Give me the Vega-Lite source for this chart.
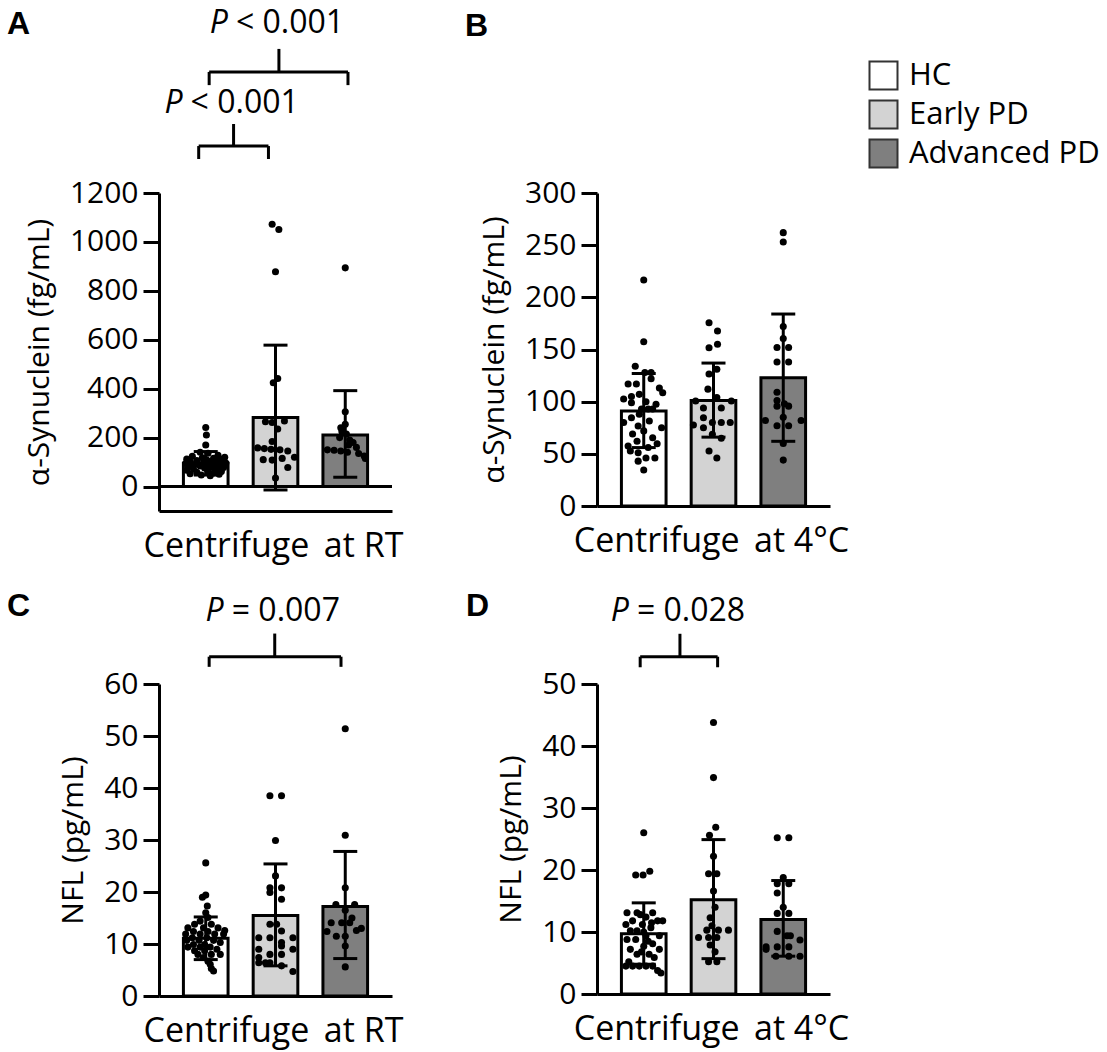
{
  "$schema": "https://vega.github.io/schema/vega-lite/v6.json",
  "background": "white",
  "padding": {"left": 7, "top": 6, "right": 0, "bottom": 4},
  "config": {
    "font": "Open Sans",
    "view": {"stroke": null},
    "axis": {
      "grid": false, "domainColor": "black", "domainWidth": 3,
      "tickColor": "black", "tickWidth": 3, "tickSize": 16,
      "labelColor": "black", "labelFontSize": 30, "labelPadding": 5,
      "titleColor": "black", "titleFontWeight": "normal", "titleFontSize": 30, "titlePadding": 15
    },
    "axisX": {"titleFontSize": 34, "titlePadding": 18, "titleX": 114},
    "tick": {"opacity": 1},
    "title": {"font": "Liberation Sans", "fontWeight": "bold", "fontSize": 32, "color": "black", "anchor": "start", "frame": "group"}
  },
  "datasets": {
    "A_sum": [
      {"group": "HC", "mean": 95, "lo": 47, "hi": 143},
      {"group": "Early PD", "mean": 282, "lo": -14, "hi": 578},
      {"group": "Advanced PD", "mean": 211, "lo": 38, "hi": 392}
    ],
    "A_pts": [
      {"group": "HC", "value": 241, "jitter": 0}, {"group": "HC", "value": 211, "jitter": 0.03}, {"group": "HC", "value": 170, "jitter": 0},
      {"group": "HC", "value": 140, "jitter": -0.25}, {"group": "HC", "value": 136, "jitter": 0.1}, {"group": "HC", "value": 128, "jitter": 0.55},
      {"group": "HC", "value": 124, "jitter": -0.6}, {"group": "HC", "value": 120, "jitter": 0.85}, {"group": "HC", "value": 118, "jitter": -0.15},
      {"group": "HC", "value": 115, "jitter": 0.35}, {"group": "HC", "value": 112, "jitter": -0.85}, {"group": "HC", "value": 110, "jitter": 0.7},
      {"group": "HC", "value": 108, "jitter": 0.05}, {"group": "HC", "value": 106, "jitter": -0.4}, {"group": "HC", "value": 104, "jitter": 0.5},
      {"group": "HC", "value": 102, "jitter": -0.7}, {"group": "HC", "value": 100, "jitter": 0.2}, {"group": "HC", "value": 98, "jitter": -0.1},
      {"group": "HC", "value": 96, "jitter": 0.9}, {"group": "HC", "value": 94, "jitter": -0.9}, {"group": "HC", "value": 92, "jitter": 0.4},
      {"group": "HC", "value": 90, "jitter": -0.5}, {"group": "HC", "value": 88, "jitter": 0.15}, {"group": "HC", "value": 86, "jitter": 0.65},
      {"group": "HC", "value": 84, "jitter": -0.25}, {"group": "HC", "value": 82, "jitter": -0.75}, {"group": "HC", "value": 80, "jitter": 0.3},
      {"group": "HC", "value": 78, "jitter": 0.8}, {"group": "HC", "value": 76, "jitter": -0.05}, {"group": "HC", "value": 73, "jitter": -0.55},
      {"group": "HC", "value": 70, "jitter": 0.5}, {"group": "HC", "value": 67, "jitter": -0.85}, {"group": "HC", "value": 64, "jitter": 0.1},
      {"group": "HC", "value": 61, "jitter": 0.7}, {"group": "HC", "value": 58, "jitter": -0.4}, {"group": "HC", "value": 55, "jitter": 0.35},
      {"group": "HC", "value": 52, "jitter": -0.7}, {"group": "HC", "value": 50, "jitter": 0.6}, {"group": "HC", "value": 47, "jitter": -0.2},
      {"group": "HC", "value": 44, "jitter": 0.2},
      {"group": "Early PD", "value": 1072, "jitter": -0.15}, {"group": "Early PD", "value": 1051, "jitter": 0.15}, {"group": "Early PD", "value": 878, "jitter": 0},
      {"group": "Early PD", "value": 442, "jitter": 0.1}, {"group": "Early PD", "value": 424, "jitter": -0.1}, {"group": "Early PD", "value": 265, "jitter": -0.45},
      {"group": "Early PD", "value": 262, "jitter": -0.15}, {"group": "Early PD", "value": 268, "jitter": 0.4}, {"group": "Early PD", "value": 235, "jitter": 0.1},
      {"group": "Early PD", "value": 184, "jitter": -0.15}, {"group": "Early PD", "value": 158, "jitter": -0.8}, {"group": "Early PD", "value": 155, "jitter": -0.5},
      {"group": "Early PD", "value": 152, "jitter": -0.2}, {"group": "Early PD", "value": 150, "jitter": 0.2}, {"group": "Early PD", "value": 145, "jitter": 0.55},
      {"group": "Early PD", "value": 120, "jitter": 0.85}, {"group": "Early PD", "value": 115, "jitter": 0.3}, {"group": "Early PD", "value": 110, "jitter": -0.55},
      {"group": "Early PD", "value": 108, "jitter": -0.15}, {"group": "Early PD", "value": 78, "jitter": 0.55}, {"group": "Early PD", "value": 35, "jitter": 0},
      {"group": "Advanced PD", "value": 894, "jitter": 0}, {"group": "Advanced PD", "value": 306, "jitter": 0}, {"group": "Advanced PD", "value": 255, "jitter": 0},
      {"group": "Advanced PD", "value": 240, "jitter": -0.2}, {"group": "Advanced PD", "value": 225, "jitter": -0.15}, {"group": "Advanced PD", "value": 215, "jitter": 0.05},
      {"group": "Advanced PD", "value": 200, "jitter": -0.25}, {"group": "Advanced PD", "value": 190, "jitter": 0.2}, {"group": "Advanced PD", "value": 180, "jitter": 0.35},
      {"group": "Advanced PD", "value": 170, "jitter": 0.15}, {"group": "Advanced PD", "value": 160, "jitter": 0.5}, {"group": "Advanced PD", "value": 150, "jitter": -0.8},
      {"group": "Advanced PD", "value": 148, "jitter": -0.5}, {"group": "Advanced PD", "value": 145, "jitter": -0.2}, {"group": "Advanced PD", "value": 140, "jitter": 0.1},
      {"group": "Advanced PD", "value": 135, "jitter": 0.6}, {"group": "Advanced PD", "value": 125, "jitter": 0.85}, {"group": "Advanced PD", "value": 115, "jitter": 0.9}
    ],
    "A_br": [
      {"x1": 0.05, "x2": 2.04, "xm": 1.05, "ybar": 1695, "yend": 1641, "ytop": 1789, "ytext": 1895, "label": "< 0.001"},
      {"x1": -0.1, "x2": 0.9, "xm": 0.4, "ybar": 1392, "yend": 1339, "ytop": 1482, "ytext": 1568, "label": "< 0.001"}
    ],
    "B_sum": [
      {"group": "HC", "mean": 91, "lo": 56, "hi": 127},
      {"group": "Early PD", "mean": 101, "lo": 66, "hi": 137},
      {"group": "Advanced PD", "mean": 123, "lo": 62, "hi": 184}
    ],
    "B_pts": [
      {"group": "HC", "value": 216.6, "jitter": 0}, {"group": "HC", "value": 157.5, "jitter": 0}, {"group": "HC", "value": 134, "jitter": -0.38},
      {"group": "HC", "value": 128, "jitter": 0.05}, {"group": "HC", "value": 128, "jitter": 0.33}, {"group": "HC", "value": 122, "jitter": 0.33},
      {"group": "HC", "value": 117, "jitter": -0.7}, {"group": "HC", "value": 117, "jitter": -0.33}, {"group": "HC", "value": 113, "jitter": 0.7},
      {"group": "HC", "value": 108.6, "jitter": 0.85}, {"group": "HC", "value": 107, "jitter": -0.2}, {"group": "HC", "value": 105, "jitter": -0.55},
      {"group": "HC", "value": 102.5, "jitter": -0.9}, {"group": "HC", "value": 100, "jitter": 0.1}, {"group": "HC", "value": 99, "jitter": -0.55},
      {"group": "HC", "value": 97.5, "jitter": 0.55}, {"group": "HC", "value": 93, "jitter": -0.1}, {"group": "HC", "value": 93, "jitter": 0.2},
      {"group": "HC", "value": 93, "jitter": 0.4}, {"group": "HC", "value": 88, "jitter": -0.2}, {"group": "HC", "value": 84.6, "jitter": -0.55},
      {"group": "HC", "value": 81.5, "jitter": 0.25}, {"group": "HC", "value": 80, "jitter": -0.9}, {"group": "HC", "value": 76.7, "jitter": -0.25},
      {"group": "HC", "value": 75, "jitter": 0.8}, {"group": "HC", "value": 72, "jitter": 0}, {"group": "HC", "value": 69, "jitter": -0.5},
      {"group": "HC", "value": 65.5, "jitter": 0.4}, {"group": "HC", "value": 62, "jitter": -0.3}, {"group": "HC", "value": 59.7, "jitter": 0.6},
      {"group": "HC", "value": 57.5, "jitter": -0.7}, {"group": "HC", "value": 56, "jitter": 0.2}, {"group": "HC", "value": 52.7, "jitter": -0.6},
      {"group": "HC", "value": 51, "jitter": -0.25}, {"group": "HC", "value": 46, "jitter": 0.1}, {"group": "HC", "value": 46, "jitter": 0.5},
      {"group": "HC", "value": 43, "jitter": -0.25}, {"group": "HC", "value": 34.5, "jitter": 0},
      {"group": "Early PD", "value": 175.7, "jitter": -0.2}, {"group": "Early PD", "value": 167.7, "jitter": 0.18}, {"group": "Early PD", "value": 155, "jitter": 0.18},
      {"group": "Early PD", "value": 151.7, "jitter": -0.2}, {"group": "Early PD", "value": 131, "jitter": 0.15}, {"group": "Early PD", "value": 126.5, "jitter": -0.2},
      {"group": "Early PD", "value": 112, "jitter": -0.25}, {"group": "Early PD", "value": 104, "jitter": 0.15}, {"group": "Early PD", "value": 100.6, "jitter": -0.8},
      {"group": "Early PD", "value": 100.6, "jitter": 0.8}, {"group": "Early PD", "value": 94, "jitter": -0.45}, {"group": "Early PD", "value": 94, "jitter": 0.35},
      {"group": "Early PD", "value": 84.6, "jitter": -0.45}, {"group": "Early PD", "value": 80, "jitter": -0.05}, {"group": "Early PD", "value": 80, "jitter": 0.35},
      {"group": "Early PD", "value": 80, "jitter": 0.75}, {"group": "Early PD", "value": 77.6, "jitter": -0.9}, {"group": "Early PD", "value": 75, "jitter": -0.45},
      {"group": "Early PD", "value": 68.7, "jitter": -0.05}, {"group": "Early PD", "value": 65, "jitter": 0.35}, {"group": "Early PD", "value": 52.7, "jitter": -0.2},
      {"group": "Early PD", "value": 46, "jitter": 0.15},
      {"group": "Advanced PD", "value": 262, "jitter": 0}, {"group": "Advanced PD", "value": 253, "jitter": 0}, {"group": "Advanced PD", "value": 172, "jitter": 0},
      {"group": "Advanced PD", "value": 160.6, "jitter": 0}, {"group": "Advanced PD", "value": 152, "jitter": -0.28}, {"group": "Advanced PD", "value": 152, "jitter": 0.24},
      {"group": "Advanced PD", "value": 138, "jitter": -0.28}, {"group": "Advanced PD", "value": 138, "jitter": 0.24}, {"group": "Advanced PD", "value": 109, "jitter": -0.28},
      {"group": "Advanced PD", "value": 101, "jitter": -0.28}, {"group": "Advanced PD", "value": 98, "jitter": 0.05}, {"group": "Advanced PD", "value": 95.7, "jitter": -0.28},
      {"group": "Advanced PD", "value": 95.7, "jitter": 0.24}, {"group": "Advanced PD", "value": 85, "jitter": 0}, {"group": "Advanced PD", "value": 82, "jitter": -0.8},
      {"group": "Advanced PD", "value": 82, "jitter": 0.8}, {"group": "Advanced PD", "value": 77, "jitter": -0.28}, {"group": "Advanced PD", "value": 77, "jitter": 0.24},
      {"group": "Advanced PD", "value": 60, "jitter": 0}, {"group": "Advanced PD", "value": 44, "jitter": 0}
    ],
    "C_sum": [
      {"group": "HC", "mean": 11.1, "lo": 7.0, "hi": 15.2},
      {"group": "Early PD", "mean": 15.5, "lo": 5.8, "hi": 25.4},
      {"group": "Advanced PD", "mean": 17.2, "lo": 7.2, "hi": 27.8}
    ],
    "C_pts": [
      {"group": "HC", "value": 25.6, "jitter": 0}, {"group": "HC", "value": 19.4, "jitter": 0}, {"group": "HC", "value": 19, "jitter": -0.15},
      {"group": "HC", "value": 17.3, "jitter": 0.07}, {"group": "HC", "value": 16, "jitter": 0}, {"group": "HC", "value": 15.1, "jitter": 0.1},
      {"group": "HC", "value": 14.4, "jitter": -0.25}, {"group": "HC", "value": 13.8, "jitter": -0.5}, {"group": "HC", "value": 13.8, "jitter": 0.25},
      {"group": "HC", "value": 13.1, "jitter": -0.8}, {"group": "HC", "value": 13.1, "jitter": -0.1}, {"group": "HC", "value": 13.1, "jitter": 0.55},
      {"group": "HC", "value": 12.6, "jitter": 0.85}, {"group": "HC", "value": 12.4, "jitter": -0.55}, {"group": "HC", "value": 12.4, "jitter": 0.1},
      {"group": "HC", "value": 11.9, "jitter": -0.9}, {"group": "HC", "value": 11.9, "jitter": -0.25}, {"group": "HC", "value": 11.9, "jitter": 0.4},
      {"group": "HC", "value": 11.9, "jitter": 0.8}, {"group": "HC", "value": 11.2, "jitter": -0.6}, {"group": "HC", "value": 11.2, "jitter": 0.05},
      {"group": "HC", "value": 10.7, "jitter": -0.85}, {"group": "HC", "value": 10.7, "jitter": -0.3}, {"group": "HC", "value": 10.7, "jitter": 0.35},
      {"group": "HC", "value": 10.3, "jitter": 0.65}, {"group": "HC", "value": 9.9, "jitter": -0.55}, {"group": "HC", "value": 9.9, "jitter": -0.05},
      {"group": "HC", "value": 9.4, "jitter": -0.8}, {"group": "HC", "value": 9.4, "jitter": -0.25}, {"group": "HC", "value": 9.4, "jitter": 0.2},
      {"group": "HC", "value": 9, "jitter": 0.5}, {"group": "HC", "value": 8.7, "jitter": -0.5}, {"group": "HC", "value": 8.7, "jitter": -0.05},
      {"group": "HC", "value": 8, "jitter": -0.35}, {"group": "HC", "value": 8, "jitter": 0.25}, {"group": "HC", "value": 8, "jitter": 0.65},
      {"group": "HC", "value": 7.4, "jitter": -0.1}, {"group": "HC", "value": 6.7, "jitter": 0.1}, {"group": "HC", "value": 6.1, "jitter": 0.2},
      {"group": "HC", "value": 5.3, "jitter": 0.25}, {"group": "HC", "value": 4.8, "jitter": 0.35},
      {"group": "Early PD", "value": 38.5, "jitter": -0.25}, {"group": "Early PD", "value": 38.5, "jitter": 0.27}, {"group": "Early PD", "value": 29.9, "jitter": 0},
      {"group": "Early PD", "value": 23.1, "jitter": 0}, {"group": "Early PD", "value": 20.8, "jitter": -0.25}, {"group": "Early PD", "value": 20.8, "jitter": 0.27},
      {"group": "Early PD", "value": 19.9, "jitter": -0.25}, {"group": "Early PD", "value": 18.6, "jitter": 0.27}, {"group": "Early PD", "value": 13.8, "jitter": -0.25},
      {"group": "Early PD", "value": 13.8, "jitter": 0.05}, {"group": "Early PD", "value": 12.5, "jitter": 0.27}, {"group": "Early PD", "value": 11.2, "jitter": -0.75},
      {"group": "Early PD", "value": 11.2, "jitter": -0.25}, {"group": "Early PD", "value": 11.2, "jitter": 0.78}, {"group": "Early PD", "value": 10.3, "jitter": 0.27},
      {"group": "Early PD", "value": 9.6, "jitter": 0.27}, {"group": "Early PD", "value": 9, "jitter": -0.75}, {"group": "Early PD", "value": 9, "jitter": 0.78},
      {"group": "Early PD", "value": 8, "jitter": -0.25}, {"group": "Early PD", "value": 8, "jitter": 0.27}, {"group": "Early PD", "value": 7.4, "jitter": -0.75},
      {"group": "Early PD", "value": 6.4, "jitter": -0.75}, {"group": "Early PD", "value": 6.4, "jitter": -0.45}, {"group": "Early PD", "value": 6.4, "jitter": -0.25},
      {"group": "Early PD", "value": 5.8, "jitter": 0.27}, {"group": "Early PD", "value": 4.7, "jitter": 0.78},
      {"group": "Advanced PD", "value": 51.4, "jitter": 0}, {"group": "Advanced PD", "value": 30.9, "jitter": 0}, {"group": "Advanced PD", "value": 20.8, "jitter": 0},
      {"group": "Advanced PD", "value": 17.6, "jitter": -0.42}, {"group": "Advanced PD", "value": 17.6, "jitter": 0.42}, {"group": "Advanced PD", "value": 16.5, "jitter": 0},
      {"group": "Advanced PD", "value": 15, "jitter": 0.3}, {"group": "Advanced PD", "value": 14.1, "jitter": -0.63}, {"group": "Advanced PD", "value": 14.1, "jitter": -0.16},
      {"group": "Advanced PD", "value": 14.1, "jitter": 0.2}, {"group": "Advanced PD", "value": 13, "jitter": 0.72}, {"group": "Advanced PD", "value": 12.6, "jitter": 0.5},
      {"group": "Advanced PD", "value": 12.4, "jitter": -0.82}, {"group": "Advanced PD", "value": 11.5, "jitter": -0.4}, {"group": "Advanced PD", "value": 11.5, "jitter": 0},
      {"group": "Advanced PD", "value": 9.6, "jitter": 0}, {"group": "Advanced PD", "value": 5.6, "jitter": 0}
    ],
    "C_br": [
      {"x1": 0.05, "x2": 1.94, "xm": 0.99, "ybar": 65.25, "yend": 63.3, "ytop": 69.7, "ytext": 74.0, "label": "= 0.007"}
    ],
    "D_sum": [
      {"group": "HC", "mean": 9.7, "lo": 4.8, "hi": 14.7},
      {"group": "Early PD", "mean": 15.2, "lo": 5.7, "hi": 24.9},
      {"group": "Advanced PD", "mean": 12.0, "lo": 6.1, "hi": 18.3}
    ],
    "D_pts": [
      {"group": "HC", "value": 26, "jitter": 0}, {"group": "HC", "value": 19.8, "jitter": 0.27}, {"group": "HC", "value": 19.2, "jitter": -0.36},
      {"group": "HC", "value": 19.2, "jitter": -0.03}, {"group": "HC", "value": 13.1, "jitter": -0.75}, {"group": "HC", "value": 13.1, "jitter": -0.3},
      {"group": "HC", "value": 13.1, "jitter": 0.4}, {"group": "HC", "value": 12.8, "jitter": -0.15}, {"group": "HC", "value": 12.4, "jitter": 0.1},
      {"group": "HC", "value": 11.8, "jitter": -0.5}, {"group": "HC", "value": 11.8, "jitter": 0.62}, {"group": "HC", "value": 11.8, "jitter": 0.85},
      {"group": "HC", "value": 11.5, "jitter": 0.35}, {"group": "HC", "value": 11.2, "jitter": -0.8}, {"group": "HC", "value": 11.2, "jitter": -0.06},
      {"group": "HC", "value": 10.7, "jitter": 0.32}, {"group": "HC", "value": 10.2, "jitter": -0.6}, {"group": "HC", "value": 10.2, "jitter": -0.3},
      {"group": "HC", "value": 10, "jitter": 0}, {"group": "HC", "value": 9.4, "jitter": 0.1}, {"group": "HC", "value": 9.4, "jitter": 0.7},
      {"group": "HC", "value": 8.8, "jitter": -0.75}, {"group": "HC", "value": 8.8, "jitter": -0.36}, {"group": "HC", "value": 8.5, "jitter": 0.2},
      {"group": "HC", "value": 8.1, "jitter": 0.4}, {"group": "HC", "value": 7.7, "jitter": 0}, {"group": "HC", "value": 7.2, "jitter": -0.6},
      {"group": "HC", "value": 7.2, "jitter": 0.7}, {"group": "HC", "value": 6.8, "jitter": -0.1}, {"group": "HC", "value": 6.4, "jitter": -0.3},
      {"group": "HC", "value": 6.4, "jitter": 0.24}, {"group": "HC", "value": 5.9, "jitter": 0.47}, {"group": "HC", "value": 5.2, "jitter": -0.67},
      {"group": "HC", "value": 4.5, "jitter": -0.8}, {"group": "HC", "value": 4.5, "jitter": -0.5}, {"group": "HC", "value": 4.5, "jitter": -0.2},
      {"group": "HC", "value": 4.5, "jitter": 0.1}, {"group": "HC", "value": 4.5, "jitter": 0.4}, {"group": "HC", "value": 3.8, "jitter": 0.62},
      {"group": "HC", "value": 3.4, "jitter": 0.77},
      {"group": "Early PD", "value": 43.8, "jitter": 0}, {"group": "Early PD", "value": 34.9, "jitter": 0}, {"group": "Early PD", "value": 26.9, "jitter": 0.1},
      {"group": "Early PD", "value": 25.6, "jitter": -0.18}, {"group": "Early PD", "value": 22.2, "jitter": 0}, {"group": "Early PD", "value": 19.4, "jitter": -0.22},
      {"group": "Early PD", "value": 19.4, "jitter": 0.15}, {"group": "Early PD", "value": 16.6, "jitter": 0}, {"group": "Early PD", "value": 14, "jitter": 0.07},
      {"group": "Early PD", "value": 12.3, "jitter": -0.15}, {"group": "Early PD", "value": 11, "jitter": -0.07}, {"group": "Early PD", "value": 10.3, "jitter": -0.3},
      {"group": "Early PD", "value": 10.3, "jitter": 0.22}, {"group": "Early PD", "value": 10.3, "jitter": 0.67}, {"group": "Early PD", "value": 9.1, "jitter": -0.67},
      {"group": "Early PD", "value": 9.1, "jitter": -0.22}, {"group": "Early PD", "value": 9.1, "jitter": 0.15}, {"group": "Early PD", "value": 7.9, "jitter": -0.15},
      {"group": "Early PD", "value": 6.8, "jitter": 0.07}, {"group": "Early PD", "value": 5.2, "jitter": -0.22}, {"group": "Early PD", "value": 5.2, "jitter": 0.15},
      {"group": "Advanced PD", "value": 25.2, "jitter": -0.27}, {"group": "Advanced PD", "value": 25.2, "jitter": 0.25}, {"group": "Advanced PD", "value": 18.8, "jitter": 0},
      {"group": "Advanced PD", "value": 17.8, "jitter": -0.27}, {"group": "Advanced PD", "value": 17.8, "jitter": 0.25}, {"group": "Advanced PD", "value": 16.3, "jitter": -0.27},
      {"group": "Advanced PD", "value": 14, "jitter": 0}, {"group": "Advanced PD", "value": 13, "jitter": -0.27}, {"group": "Advanced PD", "value": 13, "jitter": 0.25},
      {"group": "Advanced PD", "value": 10.1, "jitter": -0.27}, {"group": "Advanced PD", "value": 9.4, "jitter": 0.17}, {"group": "Advanced PD", "value": 9.4, "jitter": 0.32},
      {"group": "Advanced PD", "value": 8.7, "jitter": 0.75}, {"group": "Advanced PD", "value": 7.6, "jitter": -0.77}, {"group": "Advanced PD", "value": 7.6, "jitter": -0.27},
      {"group": "Advanced PD", "value": 7.6, "jitter": 0.25}, {"group": "Advanced PD", "value": 7.2, "jitter": -0.77}, {"group": "Advanced PD", "value": 6.1, "jitter": -0.33},
      {"group": "Advanced PD", "value": 6.1, "jitter": 0.25}, {"group": "Advanced PD", "value": 6.1, "jitter": 0.75}
    ],
    "D_br": [
      {"x1": -0.05, "x2": 1.06, "xm": 0.52, "ybar": 54.4, "yend": 52.7, "ytop": 58.1, "ytext": 61.8, "label": "= 0.028"}
    ]
  },
  "columns": 2,
  "bounds": "flush",
  "spacing": {"row": 173, "column": 205},
  "resolve": {"scale": {"fill": "independent"}, "legend": {"fill": "independent"}},
  "concat": [
    {
      "width": 233, "height": 318,
      "title": {"text": "A", "dx": -152, "offset": -34},
      "resolve": {"scale": {"x": "independent"}},
      "layer": [
        {
          "resolve": {"scale": {"xOffset": "independent"}},
          "layer": [
            {
              "data": {"name": "A_sum"},
              "mark": {"type": "bar", "stroke": "black", "strokeWidth": 3},
              "encoding": {
                "x": {"field": "group", "type": "nominal", "title": "Centrifuge\u2009 at RT", "scale": {"domain": ["HC", "Early PD", "Advanced PD"], "paddingInner": 0.36, "paddingOuter": 0.35}, "axis": {"labels": false, "ticks": false}},
                "y": {"field": "mean", "type": "quantitative", "title": "α-Synuclein (fg/mL)", "scale": {"domain": [-100, 1200], "nice": false, "zero": false}, "axis": {"values": [0, 200, 400, 600, 800, 1000, 1200], "format": "d"}},
                "y2": {"datum": 0},
                "fill": {"field": "group", "type": "nominal", "scale": {"domain": ["HC", "Early PD", "Advanced PD"], "range": ["#ffffff", "#d3d3d3", "#7f7f7f"]}, "legend": null}
              }
            },
            {
              "data": {"values": [{}]},
              "mark": {"type": "rule", "color": "black", "strokeWidth": 3},
              "encoding": {"y": {"datum": 0, "type": "quantitative", "title": "α-Synuclein (fg/mL)", "scale": {"domain": [-100, 1200], "nice": false, "zero": false}, "axis": {"values": [0, 200, 400, 600, 800, 1000, 1200], "format": "d"}}}
            },
            {
              "data": {"name": "A_pts"},
              "mark": {"type": "circle", "size": 50, "color": "black", "opacity": 1},
              "encoding": {
                "x": {"field": "group", "type": "nominal", "title": "Centrifuge\u2009 at RT", "scale": {"domain": ["HC", "Early PD", "Advanced PD"], "paddingInner": 0.36, "paddingOuter": 0.35}, "axis": {"labels": false, "ticks": false}},
                "xOffset": {"field": "jitter", "type": "quantitative", "scale": {"domain": [-1, 1]}},
                "y": {"field": "value", "type": "quantitative", "title": "α-Synuclein (fg/mL)", "scale": {"domain": [-100, 1200], "nice": false, "zero": false}, "axis": {"values": [0, 200, 400, 600, 800, 1000, 1200], "format": "d"}}
              }
            },
            {
              "data": {"name": "A_sum"},
              "mark": {"type": "rule", "color": "black", "strokeWidth": 3},
              "encoding": {
                "x": {"field": "group", "type": "nominal", "title": "Centrifuge\u2009 at RT", "scale": {"domain": ["HC", "Early PD", "Advanced PD"], "paddingInner": 0.36, "paddingOuter": 0.35}, "axis": {"labels": false, "ticks": false}},
                "y": {"field": "lo", "type": "quantitative", "title": "α-Synuclein (fg/mL)", "scale": {"domain": [-100, 1200], "nice": false, "zero": false}, "axis": {"values": [0, 200, 400, 600, 800, 1000, 1200], "format": "d"}},
                "y2": {"field": "hi"}
              }
            },
            {
              "data": {"name": "A_sum"},
              "mark": {"type": "tick", "color": "black", "thickness": 3, "size": 24, "opacity": 1},
              "encoding": {
                "x": {"field": "group", "type": "nominal", "title": "Centrifuge\u2009 at RT", "scale": {"domain": ["HC", "Early PD", "Advanced PD"], "paddingInner": 0.36, "paddingOuter": 0.35}, "axis": {"labels": false, "ticks": false}},
                "y": {"field": "lo", "type": "quantitative", "title": "α-Synuclein (fg/mL)", "scale": {"domain": [-100, 1200], "nice": false, "zero": false}, "axis": {"values": [0, 200, 400, 600, 800, 1000, 1200], "format": "d"}}
              }
            },
            {
              "data": {"name": "A_sum"},
              "mark": {"type": "tick", "color": "black", "thickness": 3, "size": 24, "opacity": 1},
              "encoding": {
                "x": {"field": "group", "type": "nominal", "title": "Centrifuge\u2009 at RT", "scale": {"domain": ["HC", "Early PD", "Advanced PD"], "paddingInner": 0.36, "paddingOuter": 0.35}, "axis": {"labels": false, "ticks": false}},
                "y": {"field": "hi", "type": "quantitative", "title": "α-Synuclein (fg/mL)", "scale": {"domain": [-100, 1200], "nice": false, "zero": false}, "axis": {"values": [0, 200, 400, 600, 800, 1000, 1200], "format": "d"}}
              }
            }
          ]
        },
        {
          "data": {"name": "A_br"},
          "layer": [
            {"mark": {"type": "rule", "color": "black", "strokeWidth": 3},
             "encoding": {"x": {"field": "x1", "type": "quantitative", "scale": {"domain": [-0.669, 2.671], "nice": false, "zero": false}, "axis": null}, "x2": {"field": "x2"},
                          "y": {"field": "ybar", "type": "quantitative", "title": "α-Synuclein (fg/mL)", "scale": {"domain": [-100, 1200], "nice": false, "zero": false}, "axis": {"values": [0, 200, 400, 600, 800, 1000, 1200], "format": "d"}}}},
            {"mark": {"type": "rule", "color": "black", "strokeWidth": 3},
             "encoding": {"x": {"field": "x1", "type": "quantitative", "scale": {"domain": [-0.669, 2.671], "nice": false, "zero": false}, "axis": null},
                          "y": {"field": "ybar", "type": "quantitative", "title": "α-Synuclein (fg/mL)", "scale": {"domain": [-100, 1200], "nice": false, "zero": false}, "axis": {"values": [0, 200, 400, 600, 800, 1000, 1200], "format": "d"}}, "y2": {"field": "yend"}}},
            {"mark": {"type": "rule", "color": "black", "strokeWidth": 3},
             "encoding": {"x": {"field": "x2", "type": "quantitative", "scale": {"domain": [-0.669, 2.671], "nice": false, "zero": false}, "axis": null},
                          "y": {"field": "ybar", "type": "quantitative", "title": "α-Synuclein (fg/mL)", "scale": {"domain": [-100, 1200], "nice": false, "zero": false}, "axis": {"values": [0, 200, 400, 600, 800, 1000, 1200], "format": "d"}}, "y2": {"field": "yend"}}},
            {"mark": {"type": "rule", "color": "black", "strokeWidth": 3},
             "encoding": {"x": {"field": "xm", "type": "quantitative", "scale": {"domain": [-0.669, 2.671], "nice": false, "zero": false}, "axis": null},
                          "y": {"field": "ybar", "type": "quantitative", "title": "α-Synuclein (fg/mL)", "scale": {"domain": [-100, 1200], "nice": false, "zero": false}, "axis": {"values": [0, 200, 400, 600, 800, 1000, 1200], "format": "d"}}, "y2": {"field": "ytop"}}},
            {"mark": {"type": "text", "text": "P", "fontStyle": "italic", "fontSize": 32, "align": "right", "baseline": "middle", "dx": -51, "color": "black"},
             "encoding": {"x": {"field": "xm", "type": "quantitative", "scale": {"domain": [-0.669, 2.671], "nice": false, "zero": false}, "axis": null},
                          "y": {"field": "ytext", "type": "quantitative", "title": "α-Synuclein (fg/mL)", "scale": {"domain": [-100, 1200], "nice": false, "zero": false}, "axis": {"values": [0, 200, 400, 600, 800, 1000, 1200], "format": "d"}}}},
            {"mark": {"type": "text", "fontSize": 32, "align": "left", "baseline": "middle", "dx": -43, "color": "black"},
             "encoding": {"x": {"field": "xm", "type": "quantitative", "scale": {"domain": [-0.669, 2.671], "nice": false, "zero": false}, "axis": null},
                          "y": {"field": "ytext", "type": "quantitative", "title": "α-Synuclein (fg/mL)", "scale": {"domain": [-100, 1200], "nice": false, "zero": false}, "axis": {"values": [0, 200, 400, 600, 800, 1000, 1200], "format": "d"}},
                          "text": {"field": "label"}}}
          ]
        }
      ]
    },
    {
      "width": 233, "height": 313,
      "title": {"text": "B", "dx": -132, "offset": 17},
      "resolve": {"scale": {"xOffset": "independent"}},
      "layer": [
        {
          "data": {"name": "B_sum"},
          "mark": {"type": "bar", "stroke": "black", "strokeWidth": 3},
          "encoding": {
            "x": {"field": "group", "type": "nominal", "title": "Centrifuge\u2009 at 4°C", "scale": {"domain": ["HC", "Early PD", "Advanced PD"], "paddingInner": 0.36, "paddingOuter": 0.35}, "axis": {"labels": false, "ticks": false}},
            "y": {"field": "mean", "type": "quantitative", "title": "α-Synuclein (fg/mL)", "scale": {"domain": [0, 300], "nice": false}, "axis": {"values": [0, 50, 100, 150, 200, 250, 300], "format": "d"}},
            "y2": {"datum": 0},
            "fill": {"field": "group", "type": "nominal", "scale": {"domain": ["HC", "Early PD", "Advanced PD"], "range": ["#ffffff", "#d3d3d3", "#7f7f7f"]},
                     "legend": {"orient": "none", "legendX": 271, "legendY": -133, "title": null, "padding": 0, "symbolType": "square", "symbolSize": 784,
                                "symbolStrokeColor": "#333333", "symbolStrokeWidth": 2, "symbolOpacity": 1, "labelFontSize": 31, "labelColor": "black",
                                "labelOffset": 10, "labelLimit": 400, "rowPadding": 2}}
          }
        },
        {
          "data": {"name": "B_pts"},
          "mark": {"type": "circle", "size": 50, "color": "black", "opacity": 1},
          "encoding": {
            "x": {"field": "group", "type": "nominal", "title": "Centrifuge\u2009 at 4°C", "scale": {"domain": ["HC", "Early PD", "Advanced PD"], "paddingInner": 0.36, "paddingOuter": 0.35}, "axis": {"labels": false, "ticks": false}},
            "xOffset": {"field": "jitter", "type": "quantitative", "scale": {"domain": [-1, 1]}},
            "y": {"field": "value", "type": "quantitative", "title": "α-Synuclein (fg/mL)", "scale": {"domain": [0, 300], "nice": false}, "axis": {"values": [0, 50, 100, 150, 200, 250, 300], "format": "d"}}
          }
        },
        {
          "data": {"name": "B_sum"},
          "mark": {"type": "rule", "color": "black", "strokeWidth": 3},
          "encoding": {
            "x": {"field": "group", "type": "nominal", "title": "Centrifuge\u2009 at 4°C", "scale": {"domain": ["HC", "Early PD", "Advanced PD"], "paddingInner": 0.36, "paddingOuter": 0.35}, "axis": {"labels": false, "ticks": false}},
            "y": {"field": "lo", "type": "quantitative", "title": "α-Synuclein (fg/mL)", "scale": {"domain": [0, 300], "nice": false}, "axis": {"values": [0, 50, 100, 150, 200, 250, 300], "format": "d"}},
            "y2": {"field": "hi"}
          }
        },
        {
          "data": {"name": "B_sum"},
          "mark": {"type": "tick", "color": "black", "thickness": 3, "size": 24, "opacity": 1},
          "encoding": {
            "x": {"field": "group", "type": "nominal", "title": "Centrifuge\u2009 at 4°C", "scale": {"domain": ["HC", "Early PD", "Advanced PD"], "paddingInner": 0.36, "paddingOuter": 0.35}, "axis": {"labels": false, "ticks": false}},
            "y": {"field": "lo", "type": "quantitative", "title": "α-Synuclein (fg/mL)", "scale": {"domain": [0, 300], "nice": false}, "axis": {"values": [0, 50, 100, 150, 200, 250, 300], "format": "d"}}
          }
        },
        {
          "data": {"name": "B_sum"},
          "mark": {"type": "tick", "color": "black", "thickness": 3, "size": 24, "opacity": 1},
          "encoding": {
            "x": {"field": "group", "type": "nominal", "title": "Centrifuge\u2009 at 4°C", "scale": {"domain": ["HC", "Early PD", "Advanced PD"], "paddingInner": 0.36, "paddingOuter": 0.35}, "axis": {"labels": false, "ticks": false}},
            "y": {"field": "hi", "type": "quantitative", "title": "α-Synuclein (fg/mL)", "scale": {"domain": [0, 300], "nice": false}, "axis": {"values": [0, 50, 100, 150, 200, 250, 300], "format": "d"}}
          }
        }
      ]
    },
    {
      "width": 233, "height": 312,
      "title": {"text": "C", "dx": -152, "offset": -28},
      "resolve": {"scale": {"x": "independent"}},
      "layer": [
        {
          "resolve": {"scale": {"xOffset": "independent"}},
          "layer": [
            {
              "data": {"name": "C_sum"},
              "mark": {"type": "bar", "stroke": "black", "strokeWidth": 3},
              "encoding": {
                "x": {"field": "group", "type": "nominal", "title": "Centrifuge\u2009 at RT", "scale": {"domain": ["HC", "Early PD", "Advanced PD"], "paddingInner": 0.36, "paddingOuter": 0.35}, "axis": {"labels": false, "ticks": false}},
                "y": {"field": "mean", "type": "quantitative", "title": "NFL (pg/mL)", "scale": {"domain": [0, 60], "nice": false}, "axis": {"values": [0, 10, 20, 30, 40, 50, 60], "format": "d"}},
                "y2": {"datum": 0},
                "fill": {"field": "group", "type": "nominal", "scale": {"domain": ["HC", "Early PD", "Advanced PD"], "range": ["#ffffff", "#d3d3d3", "#7f7f7f"]}, "legend": null}
              }
            },
            {
              "data": {"name": "C_pts"},
              "mark": {"type": "circle", "size": 50, "color": "black", "opacity": 1},
              "encoding": {
                "x": {"field": "group", "type": "nominal", "title": "Centrifuge\u2009 at RT", "scale": {"domain": ["HC", "Early PD", "Advanced PD"], "paddingInner": 0.36, "paddingOuter": 0.35}, "axis": {"labels": false, "ticks": false}},
                "xOffset": {"field": "jitter", "type": "quantitative", "scale": {"domain": [-1, 1]}},
                "y": {"field": "value", "type": "quantitative", "title": "NFL (pg/mL)", "scale": {"domain": [0, 60], "nice": false}, "axis": {"values": [0, 10, 20, 30, 40, 50, 60], "format": "d"}}
              }
            },
            {
              "data": {"name": "C_sum"},
              "mark": {"type": "rule", "color": "black", "strokeWidth": 3},
              "encoding": {
                "x": {"field": "group", "type": "nominal", "title": "Centrifuge\u2009 at RT", "scale": {"domain": ["HC", "Early PD", "Advanced PD"], "paddingInner": 0.36, "paddingOuter": 0.35}, "axis": {"labels": false, "ticks": false}},
                "y": {"field": "lo", "type": "quantitative", "title": "NFL (pg/mL)", "scale": {"domain": [0, 60], "nice": false}, "axis": {"values": [0, 10, 20, 30, 40, 50, 60], "format": "d"}},
                "y2": {"field": "hi"}
              }
            },
            {
              "data": {"name": "C_sum"},
              "mark": {"type": "tick", "color": "black", "thickness": 3, "size": 24, "opacity": 1},
              "encoding": {
                "x": {"field": "group", "type": "nominal", "title": "Centrifuge\u2009 at RT", "scale": {"domain": ["HC", "Early PD", "Advanced PD"], "paddingInner": 0.36, "paddingOuter": 0.35}, "axis": {"labels": false, "ticks": false}},
                "y": {"field": "lo", "type": "quantitative", "title": "NFL (pg/mL)", "scale": {"domain": [0, 60], "nice": false}, "axis": {"values": [0, 10, 20, 30, 40, 50, 60], "format": "d"}}
              }
            },
            {
              "data": {"name": "C_sum"},
              "mark": {"type": "tick", "color": "black", "thickness": 3, "size": 24, "opacity": 1},
              "encoding": {
                "x": {"field": "group", "type": "nominal", "title": "Centrifuge\u2009 at RT", "scale": {"domain": ["HC", "Early PD", "Advanced PD"], "paddingInner": 0.36, "paddingOuter": 0.35}, "axis": {"labels": false, "ticks": false}},
                "y": {"field": "hi", "type": "quantitative", "title": "NFL (pg/mL)", "scale": {"domain": [0, 60], "nice": false}, "axis": {"values": [0, 10, 20, 30, 40, 50, 60], "format": "d"}}
              }
            }
          ]
        },
        {
          "data": {"name": "C_br"},
          "layer": [
            {"mark": {"type": "rule", "color": "black", "strokeWidth": 3},
             "encoding": {"x": {"field": "x1", "type": "quantitative", "scale": {"domain": [-0.669, 2.671], "nice": false, "zero": false}, "axis": null}, "x2": {"field": "x2"},
                          "y": {"field": "ybar", "type": "quantitative", "title": "NFL (pg/mL)", "scale": {"domain": [0, 60], "nice": false}, "axis": {"values": [0, 10, 20, 30, 40, 50, 60], "format": "d"}}}},
            {"mark": {"type": "rule", "color": "black", "strokeWidth": 3},
             "encoding": {"x": {"field": "x1", "type": "quantitative", "scale": {"domain": [-0.669, 2.671], "nice": false, "zero": false}, "axis": null},
                          "y": {"field": "ybar", "type": "quantitative", "title": "NFL (pg/mL)", "scale": {"domain": [0, 60], "nice": false}, "axis": {"values": [0, 10, 20, 30, 40, 50, 60], "format": "d"}}, "y2": {"field": "yend"}}},
            {"mark": {"type": "rule", "color": "black", "strokeWidth": 3},
             "encoding": {"x": {"field": "x2", "type": "quantitative", "scale": {"domain": [-0.669, 2.671], "nice": false, "zero": false}, "axis": null},
                          "y": {"field": "ybar", "type": "quantitative", "title": "NFL (pg/mL)", "scale": {"domain": [0, 60], "nice": false}, "axis": {"values": [0, 10, 20, 30, 40, 50, 60], "format": "d"}}, "y2": {"field": "yend"}}},
            {"mark": {"type": "rule", "color": "black", "strokeWidth": 3},
             "encoding": {"x": {"field": "xm", "type": "quantitative", "scale": {"domain": [-0.669, 2.671], "nice": false, "zero": false}, "axis": null},
                          "y": {"field": "ybar", "type": "quantitative", "title": "NFL (pg/mL)", "scale": {"domain": [0, 60], "nice": false}, "axis": {"values": [0, 10, 20, 30, 40, 50, 60], "format": "d"}}, "y2": {"field": "ytop"}}},
            {"mark": {"type": "text", "text": "P", "fontStyle": "italic", "fontSize": 32, "align": "right", "baseline": "middle", "dx": -51, "color": "black"},
             "encoding": {"x": {"field": "xm", "type": "quantitative", "scale": {"domain": [-0.669, 2.671], "nice": false, "zero": false}, "axis": null},
                          "y": {"field": "ytext", "type": "quantitative", "title": "NFL (pg/mL)", "scale": {"domain": [0, 60], "nice": false}, "axis": {"values": [0, 10, 20, 30, 40, 50, 60], "format": "d"}}}},
            {"mark": {"type": "text", "fontSize": 32, "align": "left", "baseline": "middle", "dx": -43, "color": "black"},
             "encoding": {"x": {"field": "xm", "type": "quantitative", "scale": {"domain": [-0.669, 2.671], "nice": false, "zero": false}, "axis": null},
                          "y": {"field": "ytext", "type": "quantitative", "title": "NFL (pg/mL)", "scale": {"domain": [0, 60], "nice": false}, "axis": {"values": [0, 10, 20, 30, 40, 50, 60], "format": "d"}},
                          "text": {"field": "label"}}}
          ]
        }
      ]
    },
    {
      "width": 233, "height": 310,
      "title": {"text": "D", "dx": -131, "offset": -28},
      "resolve": {"scale": {"x": "independent"}},
      "layer": [
        {
          "resolve": {"scale": {"xOffset": "independent"}},
          "layer": [
            {
              "data": {"name": "D_sum"},
              "mark": {"type": "bar", "stroke": "black", "strokeWidth": 3},
              "encoding": {
                "x": {"field": "group", "type": "nominal", "title": "Centrifuge\u2009 at 4°C", "scale": {"domain": ["HC", "Early PD", "Advanced PD"], "paddingInner": 0.36, "paddingOuter": 0.35}, "axis": {"labels": false, "ticks": false}},
                "y": {"field": "mean", "type": "quantitative", "title": "NFL (pg/mL)", "scale": {"domain": [0, 50], "nice": false}, "axis": {"values": [0, 10, 20, 30, 40, 50], "format": "d"}},
                "y2": {"datum": 0},
                "fill": {"field": "group", "type": "nominal", "scale": {"domain": ["HC", "Early PD", "Advanced PD"], "range": ["#ffffff", "#d3d3d3", "#7f7f7f"]}, "legend": null}
              }
            },
            {
              "data": {"name": "D_pts"},
              "mark": {"type": "circle", "size": 50, "color": "black", "opacity": 1},
              "encoding": {
                "x": {"field": "group", "type": "nominal", "title": "Centrifuge\u2009 at 4°C", "scale": {"domain": ["HC", "Early PD", "Advanced PD"], "paddingInner": 0.36, "paddingOuter": 0.35}, "axis": {"labels": false, "ticks": false}},
                "xOffset": {"field": "jitter", "type": "quantitative", "scale": {"domain": [-1, 1]}},
                "y": {"field": "value", "type": "quantitative", "title": "NFL (pg/mL)", "scale": {"domain": [0, 50], "nice": false}, "axis": {"values": [0, 10, 20, 30, 40, 50], "format": "d"}}
              }
            },
            {
              "data": {"name": "D_sum"},
              "mark": {"type": "rule", "color": "black", "strokeWidth": 3},
              "encoding": {
                "x": {"field": "group", "type": "nominal", "title": "Centrifuge\u2009 at 4°C", "scale": {"domain": ["HC", "Early PD", "Advanced PD"], "paddingInner": 0.36, "paddingOuter": 0.35}, "axis": {"labels": false, "ticks": false}},
                "y": {"field": "lo", "type": "quantitative", "title": "NFL (pg/mL)", "scale": {"domain": [0, 50], "nice": false}, "axis": {"values": [0, 10, 20, 30, 40, 50], "format": "d"}},
                "y2": {"field": "hi"}
              }
            },
            {
              "data": {"name": "D_sum"},
              "mark": {"type": "tick", "color": "black", "thickness": 3, "size": 24, "opacity": 1},
              "encoding": {
                "x": {"field": "group", "type": "nominal", "title": "Centrifuge\u2009 at 4°C", "scale": {"domain": ["HC", "Early PD", "Advanced PD"], "paddingInner": 0.36, "paddingOuter": 0.35}, "axis": {"labels": false, "ticks": false}},
                "y": {"field": "lo", "type": "quantitative", "title": "NFL (pg/mL)", "scale": {"domain": [0, 50], "nice": false}, "axis": {"values": [0, 10, 20, 30, 40, 50], "format": "d"}}
              }
            },
            {
              "data": {"name": "D_sum"},
              "mark": {"type": "tick", "color": "black", "thickness": 3, "size": 24, "opacity": 1},
              "encoding": {
                "x": {"field": "group", "type": "nominal", "title": "Centrifuge\u2009 at 4°C", "scale": {"domain": ["HC", "Early PD", "Advanced PD"], "paddingInner": 0.36, "paddingOuter": 0.35}, "axis": {"labels": false, "ticks": false}},
                "y": {"field": "hi", "type": "quantitative", "title": "NFL (pg/mL)", "scale": {"domain": [0, 50], "nice": false}, "axis": {"values": [0, 10, 20, 30, 40, 50], "format": "d"}}
              }
            }
          ]
        },
        {
          "data": {"name": "D_br"},
          "layer": [
            {"mark": {"type": "rule", "color": "black", "strokeWidth": 3},
             "encoding": {"x": {"field": "x1", "type": "quantitative", "scale": {"domain": [-0.669, 2.671], "nice": false, "zero": false}, "axis": null}, "x2": {"field": "x2"},
                          "y": {"field": "ybar", "type": "quantitative", "title": "NFL (pg/mL)", "scale": {"domain": [0, 50], "nice": false}, "axis": {"values": [0, 10, 20, 30, 40, 50], "format": "d"}}}},
            {"mark": {"type": "rule", "color": "black", "strokeWidth": 3},
             "encoding": {"x": {"field": "x1", "type": "quantitative", "scale": {"domain": [-0.669, 2.671], "nice": false, "zero": false}, "axis": null},
                          "y": {"field": "ybar", "type": "quantitative", "title": "NFL (pg/mL)", "scale": {"domain": [0, 50], "nice": false}, "axis": {"values": [0, 10, 20, 30, 40, 50], "format": "d"}}, "y2": {"field": "yend"}}},
            {"mark": {"type": "rule", "color": "black", "strokeWidth": 3},
             "encoding": {"x": {"field": "x2", "type": "quantitative", "scale": {"domain": [-0.669, 2.671], "nice": false, "zero": false}, "axis": null},
                          "y": {"field": "ybar", "type": "quantitative", "title": "NFL (pg/mL)", "scale": {"domain": [0, 50], "nice": false}, "axis": {"values": [0, 10, 20, 30, 40, 50], "format": "d"}}, "y2": {"field": "yend"}}},
            {"mark": {"type": "rule", "color": "black", "strokeWidth": 3},
             "encoding": {"x": {"field": "xm", "type": "quantitative", "scale": {"domain": [-0.669, 2.671], "nice": false, "zero": false}, "axis": null},
                          "y": {"field": "ybar", "type": "quantitative", "title": "NFL (pg/mL)", "scale": {"domain": [0, 50], "nice": false}, "axis": {"values": [0, 10, 20, 30, 40, 50], "format": "d"}}, "y2": {"field": "ytop"}}},
            {"mark": {"type": "text", "text": "P", "fontStyle": "italic", "fontSize": 32, "align": "right", "baseline": "middle", "dx": -51, "color": "black"},
             "encoding": {"x": {"field": "xm", "type": "quantitative", "scale": {"domain": [-0.669, 2.671], "nice": false, "zero": false}, "axis": null},
                          "y": {"field": "ytext", "type": "quantitative", "title": "NFL (pg/mL)", "scale": {"domain": [0, 50], "nice": false}, "axis": {"values": [0, 10, 20, 30, 40, 50], "format": "d"}}}},
            {"mark": {"type": "text", "fontSize": 32, "align": "left", "baseline": "middle", "dx": -43, "color": "black"},
             "encoding": {"x": {"field": "xm", "type": "quantitative", "scale": {"domain": [-0.669, 2.671], "nice": false, "zero": false}, "axis": null},
                          "y": {"field": "ytext", "type": "quantitative", "title": "NFL (pg/mL)", "scale": {"domain": [0, 50], "nice": false}, "axis": {"values": [0, 10, 20, 30, 40, 50], "format": "d"}},
                          "text": {"field": "label"}}}
          ]
        }
      ]
    }
  ]
}
